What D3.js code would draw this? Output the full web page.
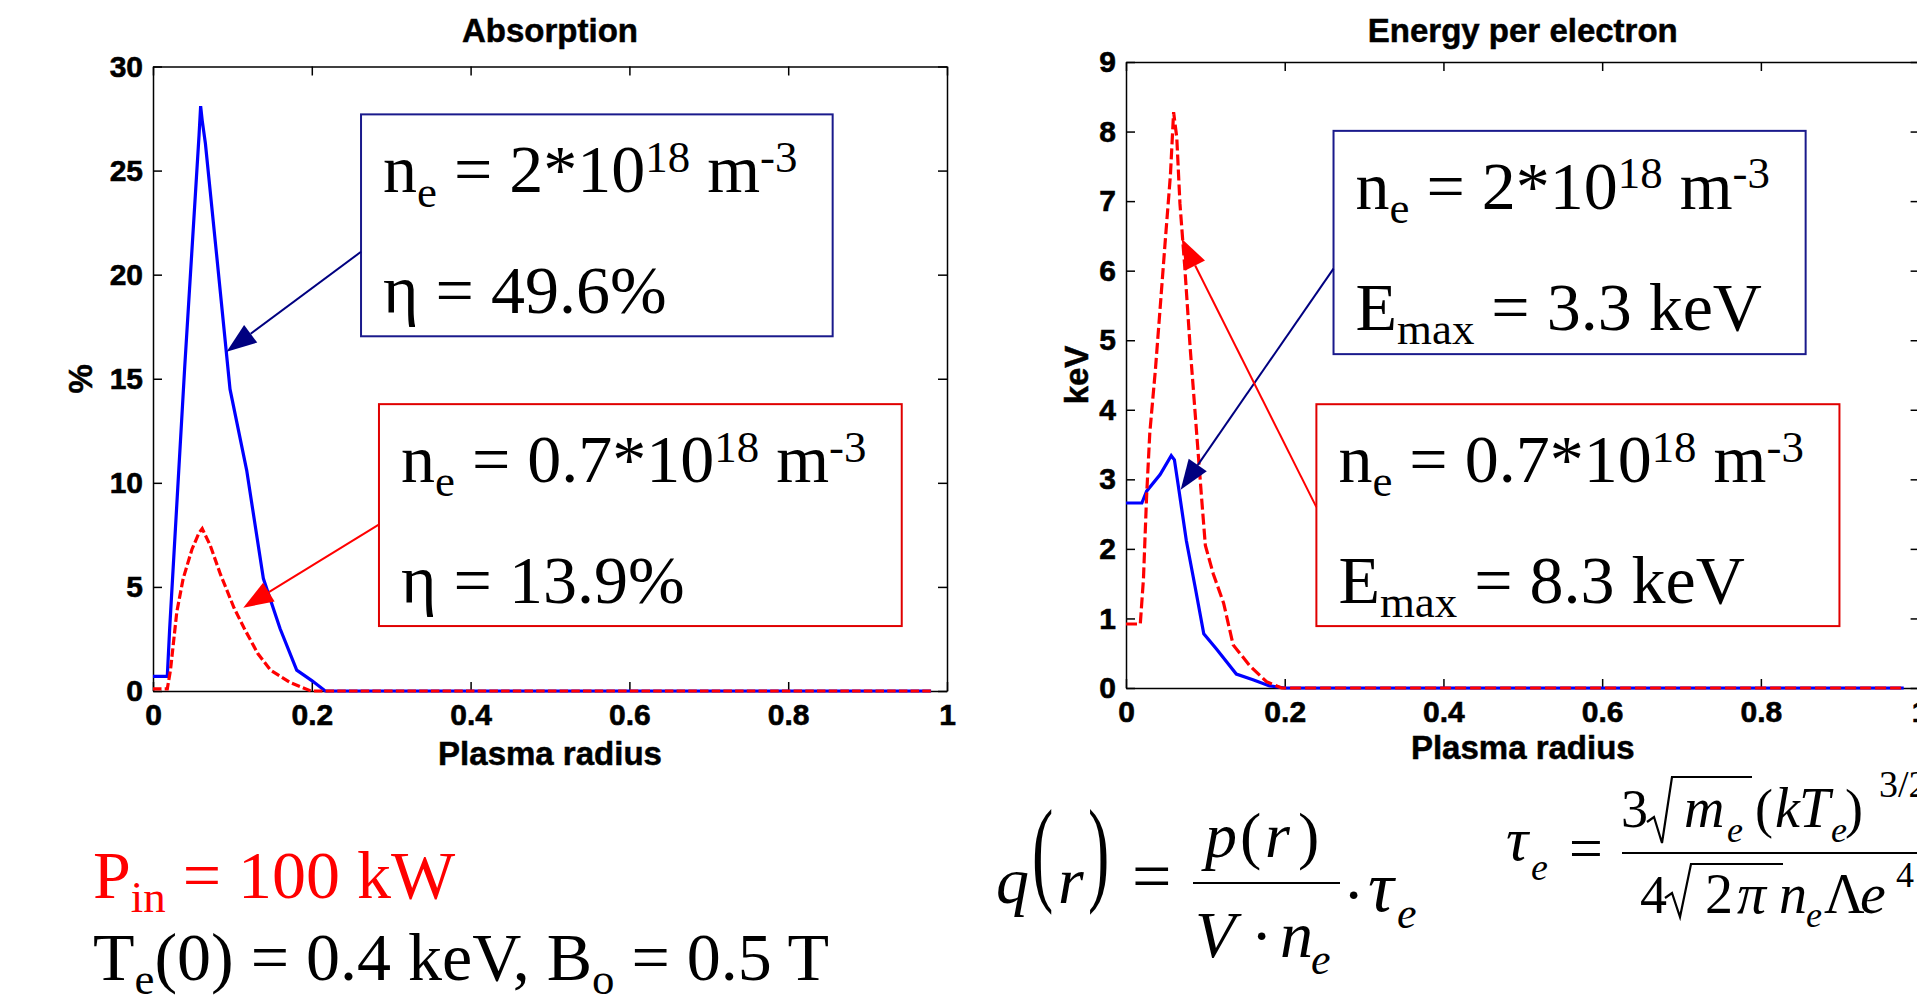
<!DOCTYPE html>
<html>
<head>
<meta charset="utf-8">
<script src="https://cdn.jsdelivr.net/npm/d3@7"></script>
<style>
  body { margin: 0; background: #fff; }
  .axis text { font-family: "Liberation Sans", Arial, sans-serif; font-weight: bold; font-size: 30px; fill: #000; stroke: #000; stroke-width: 0.6px; }
  .axis path, .axis line { stroke: #000; stroke-width: 1.5; }
  .lbl { font-family: "Liberation Sans", Arial, sans-serif; font-weight: bold; font-size: 33px; stroke: #000; stroke-width: 0.5px; }
  .serif { font-family: "Liberation Serif", "Times New Roman", serif; white-space: pre; }
</style>
</head>
<body>
<div id="chart"></div>
<script>
// Absorption (%) vs plasma radius, ne = 2e18 and ne = 0.7e18
const absR_2 = [0, 0.018, 0.021, 0.040, 0.058, 0.060, 0.062, 0.066, 0.080, 0.097, 0.118, 0.139, 0.160, 0.181, 0.200, 0.217, 0.98];
const absVal_2 = [0.7, 0.7, 3.0, 15.6, 26.7, 28.1, 27.4, 26.3, 21.0, 14.5, 10.6, 5.4, 3.0, 1.0, 0.5, 0, 0];
const absR_07 = [0, 0.018, 0.022, 0.030, 0.038, 0.049, 0.058, 0.062, 0.072, 0.085, 0.102, 0.115, 0.132, 0.148, 0.173, 0.199, 0.98];
const absVal_07 = [0.1, 0.1, 1.0, 3.8, 5.4, 6.8, 7.6, 7.8, 7.0, 5.6, 4.0, 3.0, 1.8, 1.0, 0.4, 0, 0];

// Energy per electron (keV)
const enR_2 = [0, 0.020, 0.026, 0.043, 0.057, 0.061, 0.066, 0.076, 0.087, 0.098, 0.114, 0.139, 0.160, 0.181, 0.200, 0.98];
const enVal_2 = [2.66, 2.66, 2.83, 3.07, 3.34, 3.28, 2.90, 2.12, 1.46, 0.78, 0.56, 0.20, 0.12, 0.03, 0, 0];
const enR_07 = [0, 0.018, 0.022, 0.026, 0.030, 0.037, 0.043, 0.049, 0.056, 0.060, 0.064, 0.068, 0.074, 0.081, 0.087, 0.091, 0.095, 0.100, 0.110, 0.123, 0.135, 0.156, 0.177, 0.196, 0.98];
const enVal_07 = [0.92, 0.92, 1.57, 2.77, 3.67, 4.57, 5.46, 6.36, 7.38, 8.28, 7.91, 6.96, 6.06, 4.87, 3.97, 3.37, 2.77, 2.05, 1.64, 1.22, 0.62, 0.32, 0.09, 0, 0];

const xTicks = [0, 0.2, 0.4, 0.6, 0.8, 1];
const absTicks = [0, 5, 10, 15, 20, 25, 30];
const enTicks = [0, 1, 2, 3, 4, 5, 6, 7, 8, 9];

const BLUE = "#0000ff", RED = "#ff0000", NAVY = "#000080";

const panels = [
  {title: "Absorption", ylabel: "%", ylabelX: 92, ymax: 30, yticks: absTicks,
   x0: 153, x1: 947, y0: 691, y1: 66.5, dash: "8.5,3.2", xlabY: 74,
   blue: [absR_2, absVal_2], red: [absR_07, absVal_07],
   notes: [
     {box: [0.262, 0.856, 27.7, 17.04], edge: "#1a1a8c", arrow: NAVY, from: [0.262, 21.1], to: [0.0927, 16.3],
      line1: [["n"], ["e", "sub"], [" = 2*10"], ["18", "sup"], [" m"], ["-3", "sup"]],
      line2: [["η = 49.6%"]]},
     {box: [0.2846, 0.943, 13.78, 3.12], edge: "#e00000", arrow: RED, from: [0.2838, 7.98], to: [0.1137, 4.0],
      line1: [["n"], ["e", "sub"], [" = 0.7*10"], ["18", "sup"], [" m"], ["-3", "sup"]],
      line2: [["η = 13.9%"]]}
   ]},
  {title: "Energy per electron", ylabel: "keV", ylabelX: 1088, ymax: 9, yticks: enTicks,
   x0: 1126, x1: 1919.6, y0: 688, y1: 62, dash: "11,4", xlabY: 71,
   blue: [enR_2, enVal_2], red: [enR_07, enVal_07],
   notes: [
     {box: [0.2615, 0.8564, 8.01, 4.80], edge: "#1a1a8c", arrow: NAVY, from: [0.2615, 6.03], to: [0.0689, 2.85],
      line1: [["n"], ["e", "sub"], [" = 2*10"], ["18", "sup"], [" m"], ["-3", "sup"]],
      line2: [["E"], ["max", "sub"], [" = 3.3 keV"]]},
     {box: [0.2399, 0.899, 4.08, 0.89], edge: "#e00000", arrow: RED, from: [0.2399, 2.6], to: [0.0702, 6.46],
      line1: [["n"], ["e", "sub"], [" = 0.7*10"], ["18", "sup"], [" m"], ["-3", "sup"]],
      line2: [["E"], ["max", "sub"], [" = 8.3 keV"]]}
   ]}
];

const svg = d3.select("#chart")
  .append("svg")
  .attr("width", 1917)
  .attr("height", 1005);

// text with sub/superscripts
function rich(g, x, y, size, segs) {
  const t = g.append("text").attr("class", "serif")
    .attr("x", x).attr("y", y)
    .style("font-size", size + "px");
  let shift = 0;
  segs.forEach(function(s) {
    const target = s[1] === "sub" ? 0.21 * size : s[1] === "sup" ? -0.3 * size : 0;
    t.append("tspan")
      .attr("dy", target - shift)
      .style("font-size", (s[1] ? 0.66 * size : size) + "px")
      .text(s[0]);
    shift = target;
  });
  return t;
}

panels.forEach(function(p) {
  const x = d3.scaleLinear().domain([0, 1]).range([p.x0, p.x1]);
  const y = d3.scaleLinear().domain([0, p.ymax]).range([p.y0, p.y1]);
  const g = svg.append("g");

  // box frame, ticks inside on all four sides
  g.append("g").attr("class", "axis")
    .attr("transform", "translate(0," + p.y0 + ")")
    .call(d3.axisBottom(x).tickValues(xTicks).tickFormat(function(d) { return String(d); })
      .tickSizeInner(-9).tickSizeOuter(0).tickPadding(13));
  g.append("g").attr("class", "axis")
    .attr("transform", "translate(0," + p.y1 + ")")
    .call(d3.axisTop(x).tickValues(xTicks).tickFormat("").tickSizeInner(-9).tickSizeOuter(0));
  g.append("g").attr("class", "axis")
    .attr("transform", "translate(" + p.x0 + ",0)")
    .call(d3.axisLeft(y).tickValues(p.yticks).tickSizeInner(-9).tickSizeOuter(0).tickPadding(10));
  g.append("g").attr("class", "axis")
    .attr("transform", "translate(" + p.x1 + ",0)")
    .call(d3.axisRight(y).tickValues(p.yticks).tickFormat("").tickSizeInner(-9).tickSizeOuter(0));

  g.append("text").attr("class", "lbl")
    .attr("x", (p.x0 + p.x1) / 2).attr("y", 42)
    .attr("text-anchor", "middle").text(p.title);
  g.append("text").attr("class", "lbl")
    .attr("x", (p.x0 + p.x1) / 2).attr("y", p.y0 + p.xlabY)
    .attr("text-anchor", "middle").text("Plasma radius");
  g.append("text").attr("class", "lbl")
    .attr("transform", "translate(" + p.ylabelX + "," + ((p.y0 + p.y1) / 2) + ")rotate(-90)")
    .attr("text-anchor", "middle").text(p.ylabel);

  const line = d3.line()
    .x(function(d) { return x(d[0]); })
    .y(function(d) { return y(d[1]); });

  g.append("path")
    .datum(d3.zip(p.blue[0], p.blue[1]))
    .attr("d", line)
    .attr("fill", "none")
    .attr("stroke", BLUE)
    .attr("stroke-width", 3.2);
  g.append("path")
    .datum(d3.zip(p.red[0], p.red[1]))
    .attr("d", line)
    .attr("fill", "none")
    .attr("stroke", RED)
    .attr("stroke-width", 3.2)
    .attr("stroke-dasharray", p.dash);

  // annotation boxes + arrows
  p.notes.forEach(function(n) {
    const bx = x(n.box[0]), by = y(n.box[2]);
    const bw = x(n.box[1]) - bx, bh = y(n.box[3]) - by;
    svg.append("rect")
      .attr("x", bx).attr("y", by).attr("width", bw).attr("height", bh)
      .attr("fill", "#fff").attr("stroke", n.edge).attr("stroke-width", 2);
    rich(svg, bx + 22, by + 78, 68, n.line1);
    rich(svg, bx + 22, by + 199, 68, n.line2);

    const ax = x(n.from[0]), ay = y(n.from[1]);
    const tx = x(n.to[0]), ty = y(n.to[1]);
    const len = Math.hypot(tx - ax, ty - ay);
    const ux = (tx - ax) / len, uy = (ty - ay) / len;
    const hl = 30, hw = 11;
    const hx = tx - ux * hl, hy = ty - uy * hl;
    svg.append("line")
      .attr("x1", ax).attr("y1", ay).attr("x2", hx).attr("y2", hy)
      .attr("stroke", n.arrow).attr("stroke-width", 2);
    svg.append("polygon")
      .attr("points", [[tx, ty], [hx - uy * hw, hy + ux * hw], [hx + uy * hw, hy - ux * hw]].join(" "))
      .attr("fill", n.arrow);
  });
});

// run conditions
rich(svg, 93, 898, 68, [["P"], ["in", "sub"], [" = 100 kW"]]).attr("fill", RED);
rich(svg, 93, 980, 68, [["T"], ["e", "sub"], ["(0) = 0.4 keV, B"], ["o", "sub"], [" = 0.5 T"]]);

// formulas
const fq = svg.append("g").attr("class", "serif");
function put(x, y, s, size, italic, sy) {
  return fq.append("text")
    .attr("transform", "translate(" + x + "," + y + ")" + (sy ? " scale(1," + sy + ")" : ""))
    .style("font-size", size + "px")
    .style("font-style", italic ? "italic" : "normal")
    .text(s);
}
function bar(x1, x2, yy) {
  fq.append("line").attr("x1", x1).attr("x2", x2).attr("y1", yy).attr("y2", yy)
    .attr("stroke", "#000").attr("stroke-width", 2.2);
}
function radical(pts) {
  fq.append("path").attr("d", "M" + pts.join("L"))
    .attr("fill", "none").attr("stroke", "#000").attr("stroke-width", 2.2);
}

put(996, 903, "q", 66, true);
put(1032, 890, "(", 64, false, 1.81);
put(1058, 903, "r", 66, true);
put(1088, 890, ")", 64, false, 1.81);
put(1132, 900, "=", 70);
bar(1193, 1340, 883);
put(1205, 857, "p", 64, true);
put(1240, 857, "(", 64);
put(1265, 857, "r", 64, true);
put(1298, 857, ")", 64);
put(1195, 957, "V", 66, true);
put(1251, 957, "·", 64);
put(1280, 957, "n", 66, true);
put(1311, 974, "e", 44, true);
put(1343, 916, "·", 64);
put(1368, 911, "τ", 72, true);
put(1397, 928, "e", 44, true);

put(1506, 860, "τ", 62, true);
put(1531, 880, "e", 38, true);
put(1569, 868, "=", 60);
bar(1622, 1930, 853);
put(1621, 827, "3", 54);
radical([[1647, 822], [1654, 817], [1662, 843], [1672, 777], [1752, 777]]);
put(1684, 827, "m", 56, true);
put(1727, 842, "e", 36, true);
put(1755, 827, "(", 54);
put(1775, 827, "k", 56, true);
put(1799, 827, "T", 56, true);
put(1831, 842, "e", 36, true);
put(1845, 827, ")", 54);
put(1879, 797, "3/2", 38);
put(1640, 913, "4", 54);
radical([[1665, 898], [1672, 893], [1680, 917], [1691, 864], [1783, 864]]);
put(1705, 913, "2", 56);
put(1737, 913, "π", 58, true);
put(1779, 913, "n", 56, true);
put(1806, 927, "e", 36, true);
put(1824, 913, "Λ", 56);
put(1860, 913, "e", 58, true);
put(1896, 887, "4", 36);
</script>
</body>
</html>
